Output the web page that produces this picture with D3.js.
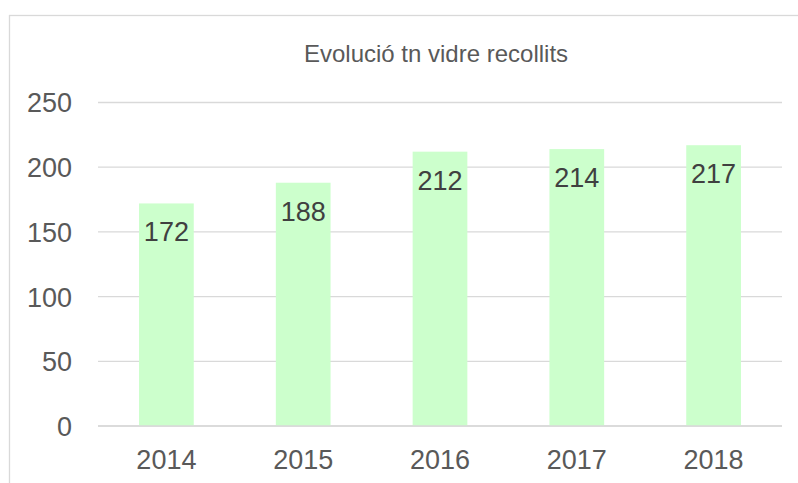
<!DOCTYPE html>
<html>
<head>
<meta charset="utf-8">
<script src="https://cdn.jsdelivr.net/npm/d3@7"></script>
<style>
  body { margin: 0; background: #fff; }
  text { font-family: "Liberation Sans", Arial, sans-serif; }
</style>
</head>
<body>
<div id="chart"></div>
<script>
const years = ["2014", "2015", "2016", "2017", "2018"];
const tones = [172, 188, 212, 214, 217];
const yTicks = [0, 50, 100, 150, 200, 250];
const title = "Evolució tn vidre recollits";

const width = 798;
const height = 483;
const margin = { left: 98, right: 16, top: 102.5, bottom: 57 };

const svg = d3.select("#chart")
  .append("svg")
  .attr("width", width)
  .attr("height", height);

// chart border (right/bottom edges fall outside the picture)
svg.append("rect")
  .attr("x", 9.5)
  .attr("y", 15.5)
  .attr("width", 800)
  .attr("height", 480)
  .attr("fill", "#fff")
  .attr("stroke", "#d9d9d9")
  .attr("stroke-width", 1.3);

const x = d3.scaleBand()
  .domain(years)
  .range([margin.left, width - margin.right])
  .paddingInner(0.6)
  .paddingOuter(0.3);

const y = d3.scaleLinear()
  .domain([0, 250])
  .range([height - margin.bottom, margin.top]);

// gridlines
svg.append("g")
  .selectAll("line")
  .data(yTicks)
  .join("line")
  .attr("x1", margin.left)
  .attr("x2", width - margin.right)
  .attr("y1", d => y(d))
  .attr("y2", d => y(d))
  .attr("stroke", "#d9d9d9")
  .attr("stroke-width", 1.3);

// y axis labels
const yAxis = d3.axisLeft(y).tickValues(yTicks).tickSize(0).tickPadding(26);
svg.append("g")
  .attr("transform", `translate(${margin.left},0)`)
  .call(yAxis)
  .call(g => g.select(".domain").remove())
  .selectAll("text")
  .style("font-size", "27px")
  .attr("fill", "#595959")
  .attr("dy", "0.35em");

// bars
svg.append("g")
  .selectAll("rect")
  .data(tones)
  .join("rect")
  .attr("x", (d, i) => x(years[i]))
  .attr("y", d => y(d))
  .attr("width", x.bandwidth())
  .attr("height", d => y(0) - y(d))
  .attr("fill", "#ccffcc");

// baseline on top of bars
svg.append("line")
  .attr("x1", margin.left)
  .attr("x2", width - margin.right)
  .attr("y1", y(0))
  .attr("y2", y(0))
  .attr("stroke", "#d9d9d9")
  .attr("stroke-width", 1.3);

// value labels, inside end
svg.append("g")
  .selectAll("text")
  .data(tones)
  .join("text")
  .attr("x", (d, i) => x(years[i]) + x.bandwidth() / 2)
  .attr("y", d => y(d) + 38)
  .attr("text-anchor", "middle")
  .style("font-size", "27px")
  .attr("fill", "#404040")
  .text(d => d);

// x axis labels
const xAxis = d3.axisBottom(x).tickSize(0);
svg.append("g")
  .attr("transform", `translate(0,${y(0)})`)
  .call(xAxis)
  .call(g => g.select(".domain").remove())
  .selectAll("text")
  .attr("y", 43)
  .attr("dy", 0)
  .style("font-size", "27px")
  .attr("fill", "#595959");

// title
svg.append("text")
  .attr("x", 436)
  .attr("y", 62)
  .attr("text-anchor", "middle")
  .style("font-size", "24px")
  .attr("fill", "#595959")
  .text(title);
</script>
</body>
</html>
